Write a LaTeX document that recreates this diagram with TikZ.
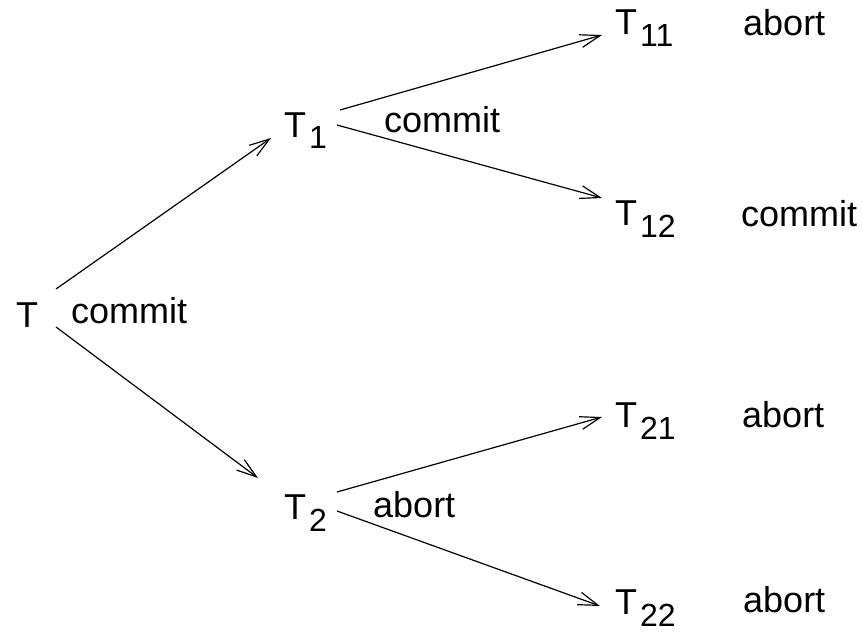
\documentclass[tikz,border=0pt]{standalone}
\usepackage{fontspec}
\setmainfont{Liberation Sans}
\usetikzlibrary{arrows.meta}
\newcommand\Tsub[1]{T\kern3pt\raisebox{-12pt}{\fontsize{32}{32}\selectfont #1}}
\begin{document}
\begin{tikzpicture}[x=1pt,y=-1pt,
  lbl/.style={anchor=base west,inner sep=0pt,font=\fontsize{36}{40}\selectfont},
  arr/.style={-{Straight Barb[length=20pt,width=13pt,line width=1.2pt]},line width=1.2pt}]
\useasboundingbox (0,0) rectangle (863,634);
% transaction nodes
\node[lbl] (T)   at (16,327)  {T};
\node[lbl] (T1)  at (284,137) {\Tsub{1}};
\node[lbl] (T2)  at (284,519) {\Tsub{2}};
\node[lbl] (T11) at (615,35)  {\Tsub{11}};
\node[lbl] (T12) at (615,225) {\Tsub{12}};
\node[lbl] (T21) at (615,427) {\Tsub{21}};
\node[lbl] (T22) at (615,614) {\Tsub{22}};
% outcome labels
\node[lbl] (cT)   at (71,323)  {commit};
\node[lbl] (cT1)  at (384,132) {commit};
\node[lbl] (aT2)  at (373,517) {abort};
\node[lbl] (aT11) at (743,36)  {abort};
\node[lbl] (cT12) at (741,226) {commit};
\node[lbl] (aT21) at (742,427) {abort};
\node[lbl] (aT22) at (743,612) {abort};
% connectors
\draw[arr] ([shift={(40,-38)}]T.base west) -- ([shift={(-13,1)}]T1.base west);
\draw[arr] ([shift={(40,0)}]T.base west) -- ([shift={(-26,-41)}]T2.base west);
\draw[arr] ([shift={(56,-27)}]T1.base west) -- ([shift={(-13,0)}]T11.base west);
\draw[arr] ([shift={(53,-12)}]T1.base west) -- ([shift={(-13,-27)}]T12.base west);
\draw[arr] ([shift={(53,-27)}]T2.base west) -- ([shift={(-13,-10)}]T21.base west);
\draw[arr] ([shift={(53,-8)}]T2.base west) -- ([shift={(-15,-8)}]T22.base west);
\end{tikzpicture}
\end{document}
